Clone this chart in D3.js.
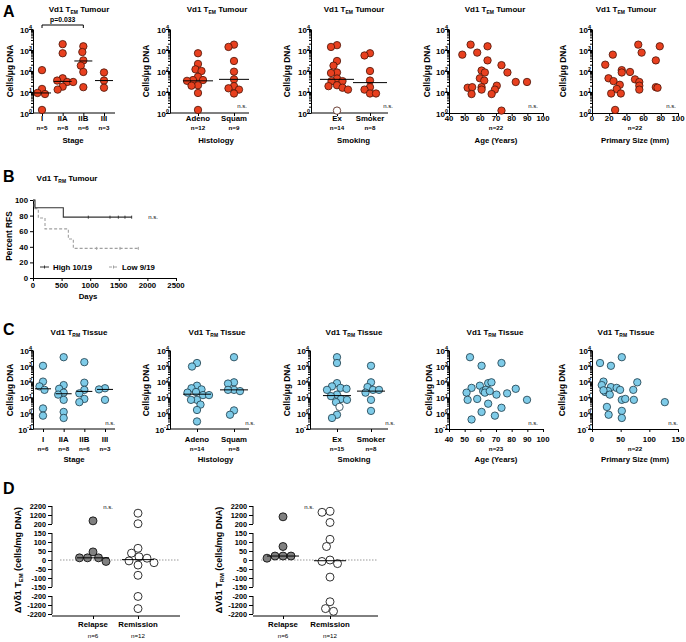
<!DOCTYPE html>
<html><head><meta charset="utf-8">
<script src="https://cdn.jsdelivr.net/npm/d3@7"></script>
<style>body{margin:0;background:#fff}</style>
</head><body>
<script>
// ================= DATA =================
const stageCats = ["I","IIA","IIB","III"];
const stageNA = ["n=5","n=8","n=6","n=3"];
const stageValsA = [[110,14,9,8,1.4],[1900,700,45,35,30,30,18,13],[1500,800,320,180,90,17],[85,35,16]];
const stageMedA = [9,32,300,35];

const histCats = ["Adeno","Squam"];
const histNA = ["n=12","n=9"];
const histValsA = [[700,217,120,100,53,37,37,34,21,20,9,1.4],[1800,1400,300,93,40,19,15,13,8.5]];
const histMedA = [34,40];

const smokeCats = ["Ex","Smoker"];
const smokeNA = ["n=14","n=8"];
const smokeValsA = [[1700,1400,300,180,85,80,44,33,33,21,19,16,13],[700,550,100,35,17,13,8.5,8.5]];
const smokeOpenA = [[1.3],[]];
const smokeMedA = [40,28];

const ageA = [53.8,48.5,58,64.6,64.6,73.5,77.3,60.8,62.9,59.7,62.5,82.6,89.8,51.9,54.8,60.8,60.8,70.5,69.3,67.2,54.4,73.5];
const ageValsA = [1800,600,750,1500,320,190,85,105,85,45,35,30,30,16,17,17,13,20,13,8,8,1.3];
const sizeA = [53.8,78.8,57.7,24.2,74.2,15.4,34.6,34.6,44.2,19.2,50,25,55,32.3,55,28.8,55,74.2,76.2,22.3,33.5,26.9];
const sizeValsA = [1800,1500,750,600,320,200,110,85,90,45,40,33,30,22,20,14,13,17,16,8.5,8.5,1.4];

const stageNC = ["n=6","n=8","n=6","n=3"];
const stageValsC = [[1000,100,50,30,2,0.7],[3500,60,35,20,15,7,1.2,0.5],[1700,85,30,18,8,5],[38,32,7]];
const stageMedC = [35,17,24,32];
const histNC = ["n=14","n=8"];
const histValsC = [[1500,900,55,38,32,22,20,14,14,7,7,3.5,1.6,0.3],[3500,90,75,30,30,25,1.5,0.8]];
const histMedC = [16,30];
const smokeNC = ["n=15","n=8"];
const smokeValsC = [[3500,1500,80,50,40,35,30,15,12,8,7,5,0.8,0.5],[1000,90,45,30,30,20,7,1.4]];
const smokeOpenC = [[2.5],[]];
const smokeMedC = [13,25];

const ageC = [53.4,60.8,73.5,54.4,59.7,65,67.1,61.8,63.5,51.2,51.9,58,65,70.3,77.1,82.6,89.8,73.5,60.8,69.3,54.4,62.9,66];
const ageValsC = [3500,1000,1500,40,55,80,90,25,30,20,7,8,4,15,18,35,7,2.2,1.2,0.7,0.4,20,25];
const sizeC = [14,52,33,20,17,33,43,49,23,28,31,79,72,52,58,73,127,26,29,52,52,20];
const sizeValsC = [1500,3500,1000,100,60,45,40,30,22,25,15,90,30,7,8,7,5,2.5,0.8,1.4,0.5,28];

const ageTicks = [40,50,60,70,80,90,100];
const sizeTicksA = [0,20,40,60,80,100];
const sizeTicksC = [0,50,100,150];

// Kaplan-Meier (panel B)
const highTimes = [0,35,530,1725];
const highSurv = [100,90,78,78];
const highCensor = [967,1346,1492,1608,1725];
const lowTimes = [0,23,93,210,618,705,1841];
const lowSurv = [100,89,77,63,50,38,38];
const lowCensor = [1113,1521,1841];
const kmYTicks = [0,20,40,60,80,100];
const kmXTicks = [0,500,1000,1500,2000,2500];

// Panel D
const dCats = ["Relapse","Remission"];
const dN = ["n=6","n=12"];
const dRelapse1 = [550,45,-8,12,12,12];
const dRemission1 = [1400,230,65,38,18,10,-5,-15,-28,-85,-250,-1600];
const dMed1 = [12,2];
const dRelapse2 = [1000,75,22,22,22,10];
const dRemission2 = [1600,1500,370,115,75,0,-8,-20,-95,-840,-1600,-1900];
const dMed2 = [22,-4];
const dTicks = [2200,1200,200,150,100,50,0,-50,-100,-150,-200,-1200,-2200];

// ================= DRAWING =================
const FONT = '"Liberation Sans", Arial, sans-serif';
const NARROW = '"Liberation Sans Narrow", "Liberation Sans", Arial, sans-serif';
const RED = "#e8401f", REDS = "#4a1408", BLUE = "#7ecbe8", BLUES = "#1c3a48";
const svg = d3.select("body").append("svg").attr("width",686).attr("height",642)
  .style("font-family",FONT);

function txt(x,y,s,o={}) {
  return svg.append("text").attr("x",x).attr("y",y).text(s)
    .attr("font-size",o.size||8).attr("font-weight",o.weight||"bold")
    .attr("text-anchor",o.anchor||"middle").attr("fill",o.fill||"#000")
    .attr("font-family",o.family||FONT);
}
function subTitle(x,y,pre,sub,post,size=8) {
  const t = svg.append("text").attr("x",x).attr("y",y).attr("text-anchor","middle")
    .attr("font-size",size).attr("font-weight","bold");
  t.append("tspan").text(pre);
  t.append("tspan").attr("font-size",size*0.62).attr("dy",2).text(sub);
  t.append("tspan").attr("dy",-2).text(post);
}
function rotLabel(x,y,s,size=8.3) {
  svg.append("text").attr("transform",`translate(${x},${y}) rotate(-90)`)
    .attr("text-anchor","middle").attr("font-size",size).attr("font-weight","bold").text(s);
}
function styleAxis(g){
  g.attr("font-family",null).attr("font-size",null);
  g.selectAll("line,path").attr("stroke","#000").attr("stroke-width",1);
}
function logY(x0,yTop,yBot,minE,maxE) {
  const y = d3.scaleLog().domain([10**minE,10**maxE]).range([yBot,yTop]);
  const majors = d3.range(minE,maxE+1).map(e=>10**e);
  const minors = [];
  for (let e=minE;e<maxE;e++) for (let m=2;m<10;m++) minors.push(m*10**e);
  const gmin = svg.append("g").attr("transform",`translate(${x0},0)`)
    .call(d3.axisLeft(y).tickValues(minors).tickSize(2).tickFormat(""));
  gmin.select(".domain").remove(); styleAxis(gmin);
  const g = svg.append("g").attr("transform",`translate(${x0},0)`)
    .call(d3.axisLeft(y).tickValues(majors).tickSize(4).tickSizeOuter(0).tickFormat(""));
  styleAxis(g);
  g.selectAll(".tick").each(function(d){
    const e = Math.round(Math.log10(d));
    const t = d3.select(this).append("text").attr("x",-1).attr("dy","0.4em")
      .attr("text-anchor","end").attr("font-size",8).attr("font-weight","bold").attr("fill","#000");
    t.append("tspan").text("10");
    t.append("tspan").attr("font-size",5.5).attr("dy",-3.5).text(e);
  });
  return y;
}
function catAxis(x0,x1,yb,cats,c0,c1,nLabs,title,ly,ny,ty) {
  const x = d3.scalePoint().domain(cats).range([c0,c1]);
  const g = svg.append("g").attr("transform",`translate(0,${yb})`)
    .call(d3.axisBottom(x).tickSize(3).tickSizeOuter(0).tickFormat(""));
  g.select(".domain").remove(); styleAxis(g);
  svg.append("line").attr("x1",x0).attr("x2",x1).attr("y1",yb).attr("y2",yb).attr("stroke","#000");
  cats.forEach((c,i)=>{ txt(x(c),ly,c,{size:7.8}); txt(x(c),ny,nLabs[i],{size:6.2}); });
  txt((c0+c1)/2,ty,title,{size:7.8});
  return x;
}
function numAxis(dom,r0,r1,yb,ticks,nLab,title,ly,ny,ty){
  const x = d3.scaleLinear().domain(dom).range([r0,r1]);
  const g = svg.append("g").attr("transform",`translate(0,${yb})`)
    .call(d3.axisBottom(x).tickValues(ticks).tickSize(3).tickSizeOuter(0).tickFormat(""));
  styleAxis(g);
  ticks.forEach(t=>txt(x(t),ly,t,{size:7.8}));
  txt((r0+r1)/2,ny,nLab,{size:6.2});
  txt((r0+r1)/2,ty,title,{size:7.8});
  return x;
}
function swarm(items,cx,minD){
  const placed=[];
  return items.map(it=>{
    let best=0;
    for(let k=0;k<80;k++){
      const off=(k%2===0?1:-1)*Math.ceil(k/2)*0.5;
      if(placed.every(p=>Math.hypot(p.x-(cx+off),p.y-it.y)>=minD)){best=off;break;}
    }
    const p={...it,x:cx+best}; placed.push(p); return p;
  });
}
function dots(pts,fill,stroke,r=3.7){
  svg.append("g").selectAll("circle").data(pts).join("circle")
    .attr("cx",d=>d.x).attr("cy",d=>d.y).attr("r",r)
    .attr("fill",d=>d.open?"#fff":fill).attr("stroke",stroke).attr("stroke-width",0.8);
}
function catDots(x,y,cats,vals,open,meds,half,fill,stroke){
  cats.forEach((c,i)=>{
    const items = vals[i].map(v=>({y:y(v)})).concat((open?open[i]:[]).map(v=>({y:y(v),open:true})));
    items.sort((a,b)=>a.y-b.y);
    dots(swarm(items,x(c),5.8),fill,stroke);
    svg.append("line").attr("x1",x(c)-half).attr("x2",x(c)+half)
      .attr("y1",y(meds[i])).attr("y2",y(meds[i])).attr("stroke","#000").attr("stroke-width",1);
  });
}
function scatter(x,y,xs,ys,fill,stroke){
  dots(xs.map((v,i)=>({x:x(v),y:y(ys[i])})),fill,stroke);
}

// ---------- Panel labels ----------
txt(3,17,"A",{size:16,anchor:"start"});
txt(3,182,"B",{size:16,anchor:"start"});
txt(3,335,"C",{size:16,anchor:"start"});
txt(3,494,"D",{size:16,anchor:"start"});

// ---------- Panel A ----------
const AY=[29,113], AL=121, AN=130, AT=143;
const aTitleX=[79,217,354,495,626];
aTitleX.forEach(x=>subTitle(x,12,"Vd1 T","EM"," Tumour"));
let y = logY(33,AY[0],AY[1],0,4);
rotLabel(13,71,"Cells/\u03bcg DNA");
let x = catAxis(33,115,AY[1],stageCats,42,104,stageNA,"Stage",AL,AN,AT);
catDots(x,y,stageCats,stageValsA,null,stageMedA,9,RED,REDS);
svg.append("path").attr("d",`M${x("I")},28 V25 H${x("IIB")} V28`).attr("fill","none").attr("stroke","#000");
txt((x("I")+x("IIB"))/2,22,"p=0.033",{size:6.8});
y = logY(170,AY[0],AY[1],0,4);
rotLabel(149,71,"Cells/\u03bcg DNA");
x = catAxis(170,249,AY[1],histCats,198,234,histNA,"Histology",AL,AN,AT);
catDots(x,y,histCats,histValsA,null,histMedA,15,RED,REDS);
txt(242,108,"n.s.",{size:6,weight:"normal"});
y = logY(311,AY[0],AY[1],0,4);
rotLabel(290,71,"Cells/\u03bcg DNA");
x = catAxis(311,388,AY[1],smokeCats,337,370,smokeNA,"Smoking",AL,AN,AT);
catDots(x,y,smokeCats,smokeValsA,smokeOpenA,smokeMedA,17,RED,REDS);
txt(388,108,"n.s.",{size:6,weight:"normal"});
y = logY(449,AY[0],AY[1],0,4);
rotLabel(430,71,"Cells/\u03bcg DNA");
x = numAxis([40,100],449,543,AY[1],ageTicks,"n=22","Age (Years)",AL,AN,AT);
scatter(x,y,ageA,ageValsA,RED,REDS);
txt(533,108,"n.s.",{size:6,weight:"normal"});
y = logY(592,AY[0],AY[1],0,4);
rotLabel(566,71,"Cells/\u03bcg DNA");
x = numAxis([0,100],592,678,AY[1],sizeTicksA,"n=22","Primary Size (mm)",AL,AN,AT);
scatter(x,y,sizeA,sizeValsA,RED,REDS);
txt(671,108,"n.s.",{size:6,weight:"normal"});

// ---------- Panel B ----------
subTitle(67,181,"Vd1 T","RM"," Tumour");
{
  const ky = d3.scaleLinear().domain([0,100]).range([278,200]);
  const kx = d3.scaleLinear().domain([0,2500]).range([33,176]);
  const gy = svg.append("g").attr("transform","translate(33,0)")
    .call(d3.axisLeft(ky).tickValues(kmYTicks).tickSize(3).tickSizeOuter(0).tickFormat(""));
  styleAxis(gy);
  kmYTicks.forEach(t=>txt(28,ky(t)+3,t,{size:7.8,anchor:"end"}));
  const gx = svg.append("g").attr("transform","translate(0,278)")
    .call(d3.axisBottom(kx).tickValues(kmXTicks).tickSize(3).tickSizeOuter(0).tickFormat(""));
  styleAxis(gx);
  kmXTicks.forEach(t=>txt(kx(t),288,t,{size:7.8}));
  txt(88,299,"Days",{size:7.8});
  rotLabel(12,236,"Percent RFS");
  const line = d3.line().x(d=>kx(d[0])).y(d=>ky(d[1])).curve(d3.curveStepAfter);
  const hi = highTimes.map((t,i)=>[t,highSurv[i]]);
  const lo = lowTimes.map((t,i)=>[t,lowSurv[i]]);
  svg.append("path").attr("d",line(lo)).attr("fill","none").attr("stroke","#a0a0a0").attr("stroke-width",1.1).attr("stroke-dasharray","3,2");
  svg.append("path").attr("d",line(hi)).attr("fill","none").attr("stroke","#333").attr("stroke-width",1.1);
  const survAt=(times,surv,t)=>{let s=surv[0];times.forEach((tt,i)=>{if(tt<=t)s=surv[i];});return s;};
  highCensor.forEach(t=>svg.append("line").attr("x1",kx(t)).attr("x2",kx(t))
    .attr("y1",ky(survAt(highTimes,highSurv,t))-1.5).attr("y2",ky(survAt(highTimes,highSurv,t))+1.5).attr("stroke","#333"));
  lowCensor.forEach(t=>svg.append("line").attr("x1",kx(t)).attr("x2",kx(t))
    .attr("y1",ky(survAt(lowTimes,lowSurv,t))-1.5).attr("y2",ky(survAt(lowTimes,lowSurv,t))+1.5).attr("stroke","#a0a0a0"));
  txt(153,219,"n.s.",{size:6,weight:"normal"});
  svg.append("line").attr("x1",40).attr("x2",49).attr("y1",267).attr("y2",267).attr("stroke","#333");
  svg.append("line").attr("x1",44.5).attr("x2",44.5).attr("y1",265.5).attr("y2",268.5).attr("stroke","#333");
  txt(53,270,"High 10/19",{size:7.8,anchor:"start"});
  svg.append("line").attr("x1",109).attr("x2",118).attr("y1",267).attr("y2",267).attr("stroke","#a0a0a0").attr("stroke-dasharray","3,2");
  svg.append("line").attr("x1",113.5).attr("x2",113.5).attr("y1",265.5).attr("y2",268.5).attr("stroke","#a0a0a0");
  txt(122,270,"Low 9/19",{size:7.8,anchor:"start"});
}

// ---------- Panel C ----------
const CY=[350,429], CL=442, CN=451, CT=462;
aTitleX.forEach(xx=>subTitle(xx,335,"Vd1 T","RM"," Tissue"));
y = logY(33,CY[0],CY[1],-1,4);
rotLabel(13,390,"Cells/\u03bcg DNA");
x = catAxis(33,115,CY[1],stageCats,43,105,stageNC,"Stage",CL,CN,CT);
catDots(x,y,stageCats,stageValsC,null,stageMedC,8,BLUE,BLUES);
txt(110,425,"n.s.",{size:6,weight:"normal"});
y = logY(170,CY[0],CY[1],-1,4);
rotLabel(149,390,"Cells/\u03bcg DNA");
x = catAxis(170,249,CY[1],histCats,197,234,histNC,"Histology",CL,CN,CT);
catDots(x,y,histCats,histValsC,null,histMedC,14,BLUE,BLUES);
txt(250,425,"n.s.",{size:6,weight:"normal"});
y = logY(310,CY[0],CY[1],-1,4);
rotLabel(290,390,"Cells/\u03bcg DNA");
x = catAxis(310,388,CY[1],smokeCats,337,371,smokeNC,"Smoking",CL,CN,CT);
catDots(x,y,smokeCats,smokeValsC,smokeOpenC,smokeMedC,14,BLUE,BLUES);
txt(390,425,"n.s.",{size:6,weight:"normal"});
y = logY(449,CY[0],CY[1],-1,4);
rotLabel(432,390,"Cells/\u03bcg DNA");
x = numAxis([40,100],449,543,CY[1],ageTicks,"n=23","Age (Years)",CL,CN,CT);
scatter(x,y,ageC,ageValsC,BLUE,BLUES);
txt(533,425,"n.s.",{size:6,weight:"normal"});
y = logY(592,CY[0],CY[1],-1,4);
rotLabel(565,390,"Cells/\u03bcg DNA");
x = numAxis([0,150],592,678,CY[1],sizeTicksC,"n=22","Primary Size (mm)",CL,CN,CT);
scatter(x,y,sizeC,sizeValsC,BLUE,BLUES);
txt(673,425,"n.s.",{size:6,weight:"normal"});

// ---------- Panel D ----------
function dPlot(x0,x1,c0,c1,rel,rem,meds,sub){
  const yTop=506, yBot=614;
  const rng = dTicks.map((t,i)=>yTop+i*(yBot-yTop)/(dTicks.length-1));
  const yd = d3.scaleLinear().domain(dTicks).range(rng);
  [[2200,200],[150,-150],[-200,-2200]].forEach(([a,b])=>{
    svg.append("line").attr("x1",x0).attr("x2",x0).attr("y1",yd(a)).attr("y2",yd(b)).attr("stroke","#000");
  });
  const g = svg.append("g").attr("transform",`translate(${x0},0)`)
    .call(d3.axisLeft(yd).tickValues(dTicks).tickSize(4).tickFormat(""));
  g.select(".domain").remove(); styleAxis(g);
  dTicks.forEach(t=>txt(x0-6,yd(t)+2.5,t,{size:7.3,weight:"bold",anchor:"end",family:NARROW}));
  svg.append("line").attr("x1",x0).attr("x2",x1).attr("y1",yBot+2).attr("y2",yBot+2).attr("stroke","#000");
  const xd = d3.scalePoint().domain(dCats).range([c0,c1]);
  const gx = svg.append("g").attr("transform",`translate(0,${yBot+2})`)
    .call(d3.axisBottom(xd).tickSize(3).tickSizeOuter(0).tickFormat(""));
  gx.select(".domain").remove(); styleAxis(gx);
  dCats.forEach((c,i)=>{ txt(xd(c),627,c,{size:7.8,weight:"bold",family:NARROW});
    txt(xd(c),638,dN[i],{size:6.2,weight:"normal",family:NARROW}); });
  svg.append("line").attr("x1",x0+8).attr("x2",x1).attr("y1",yd(0)).attr("y2",yd(0))
    .attr("stroke","#999").attr("stroke-dasharray","1.5,1.5");
  [[rel,"#808080"],[rem,"#fff"]].forEach(([vals,fill],i)=>{
    const items = vals.map(v=>({y:yd(v)})).sort((a,b)=>a.y-b.y);
    dots(swarm(items,xd(dCats[i]),8),fill,"#000",4);
    svg.append("line").attr("x1",xd(dCats[i])-16).attr("x2",xd(dCats[i])+16)
      .attr("y1",yd(meds[i])).attr("y2",yd(meds[i])).attr("stroke","#000");
  });
  txt(x0+56,509,"n.s.",{size:6,weight:"normal",family:NARROW});
  const t = svg.append("text").attr("transform",`translate(${x0-31},${(yTop+yBot)/2}) rotate(-90)`)
    .attr("text-anchor","middle").attr("font-size",9).attr("font-weight","bold");
  t.append("tspan").text("\u0394V\u03b41 T");
  t.append("tspan").attr("font-size",5.8).attr("dy",1.5).text(sub);
  t.append("tspan").attr("dy",-1.5).text(" (cells/mg DNA)");
}
dPlot(52,180,93,138,dRelapse1,dRemission1,dMed1,"EM");
dPlot(253,378,283,330,dRelapse2,dRemission2,dMed2,"RM");
</script>
</body></html>
